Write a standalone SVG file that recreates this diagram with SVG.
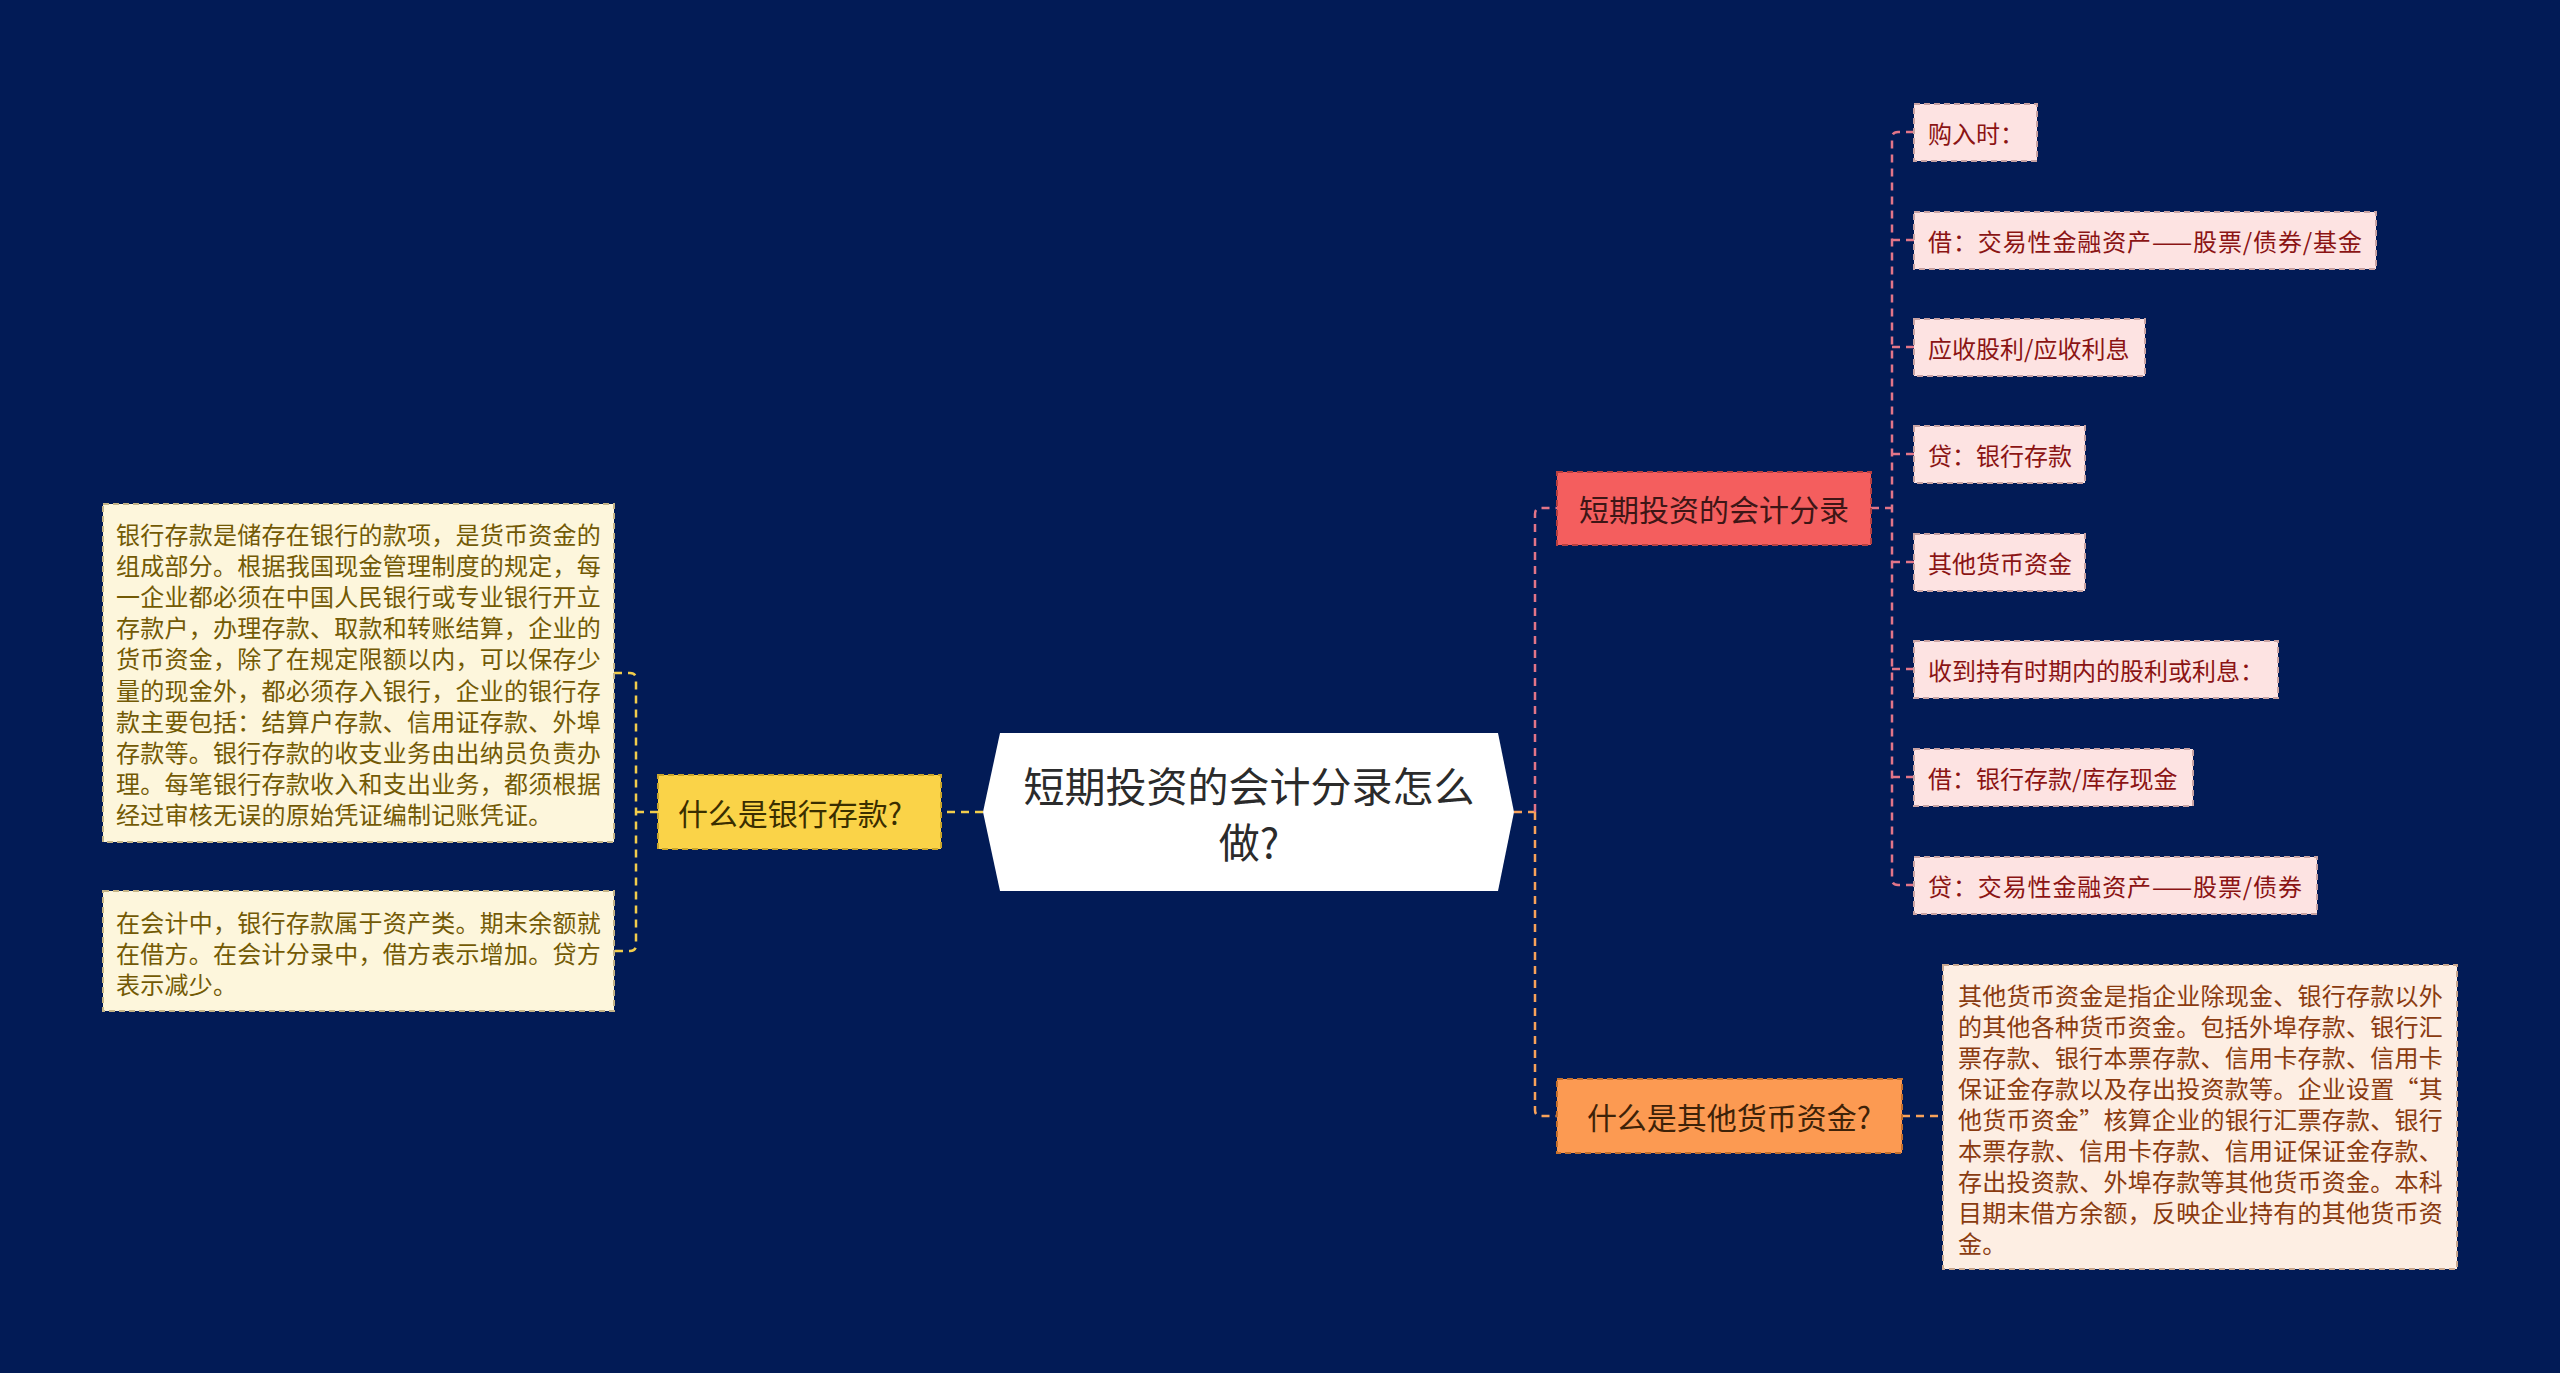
<svg xmlns="http://www.w3.org/2000/svg" width="2560" height="1373" viewBox="0 0 2560 1373">
<style>
text{font-family:"Noto Sans CJK SC","Noto Sans",sans-serif;dominant-baseline:central}
.c{fill:none;stroke-width:2.5;stroke-dasharray:8 6}
.cy{stroke:#f2cd4c}
.cp{stroke:#e27588}
.co{stroke:#f8a25a}
.root{fill:#ffffff}
.roott{font-size:41px;fill:#2b2b2b;text-anchor:middle}
.sub{font-size:30px;text-anchor:middle}
.bx{stroke-width:2;stroke-dasharray:6 4}
.nt{font-size:24px}
.leaf{fill:#fde3e2;stroke:#c9a3a3}
.leaft{fill:#8b1414}
.note{fill:#fdf6dc;stroke:#c4b487}
.notet{fill:#735a05;letter-spacing:0.25px}
.note2{fill:#fdeee3;stroke:#c9a890}
.note2t{fill:#8a3b10;letter-spacing:0.25px}
</style>
<rect width="2560" height="1373" fill="#021b56"/>
<g id="connectors">
<path class="c cy" d="M983 812H941"/>
<path class="c cy" d="M658 812H636"/>
<path class="c cy" d="M614 673H630Q636 673 636 679V945Q636 951 630 951H614"/>
<path class="c co" d="M1514 812H1535"/>
<path class="c cp" d="M1535 812V514Q1535 508 1541 508H1557"/>
<path class="c co" d="M1535 812V1110Q1535 1116 1541 1116H1557"/>
<path class="c cp" d="M1871 508H1892"/>
<path class="c cp" d="M1914 132H1898Q1892 132 1892 138V879Q1892 885 1898 885H1914"/>
<path class="c cp" d="M1892 240H1914M1892 347H1914M1892 454H1914M1892 562H1914M1892 669H1914M1892 777H1914"/>
<path class="c co" d="M1902 1116H1943"/>
</g>
<g id="root">
<polygon class="root" points="1000,733 1498,733 1514,812 1498,891 1000,891 983,812"/>
<text class="roott" x="1249" y="784">短期投资的会计分录怎么</text>
<text class="roott" x="1249" y="840">做?</text>
</g>
<g id="n-bank">
<rect class="bx" x="658" y="775" width="283" height="74" fill="#fad348" stroke="#c9a52a"/>
<text class="sub" x="790" y="812" fill="#3a2e00">什么是银行存款?</text>
</g>
<g id="n-bank-note1">
<rect class="bx note" x="103" y="504" width="511" height="338"/>
<text class="nt notet" x="116" y="533">银行存款是储存在银行的款项，是货币资金的</text>
<text class="nt notet" x="116" y="564">组成部分。根据我国现金管理制度的规定，每</text>
<text class="nt notet" x="116" y="595">一企业都必须在中国人民银行或专业银行开立</text>
<text class="nt notet" x="116" y="626">存款户，办理存款、取款和转账结算，企业的</text>
<text class="nt notet" x="116" y="657">货币资金，除了在规定限额以内，可以保存少</text>
<text class="nt notet" x="116" y="689">量的现金外，都必须存入银行，企业的银行存</text>
<text class="nt notet" x="116" y="720">款主要包括：结算户存款、信用证存款、外埠</text>
<text class="nt notet" x="116" y="751">存款等。银行存款的收支业务由出纳员负责办</text>
<text class="nt notet" x="116" y="782">理。每笔银行存款收入和支出业务，都须根据</text>
<text class="nt notet" x="116" y="813">经过审核无误的原始凭证编制记账凭证。</text>
</g>
<g id="n-bank-note2">
<rect class="bx note" x="103" y="891" width="511" height="120"/>
<text class="nt notet" x="116" y="921">在会计中，银行存款属于资产类。期末余额就</text>
<text class="nt notet" x="116" y="952">在借方。在会计分录中，借方表示增加。贷方</text>
<text class="nt notet" x="116" y="983">表示减少。</text>
</g>
<g id="n-entry">
<rect class="bx" x="1557" y="472" width="314" height="73" fill="#f45e5e" stroke="#b84040"/>
<text class="sub" x="1714" y="508" fill="#3e1616">短期投资的会计分录</text>
</g>
<g id="leaf1"><rect class="bx leaf" x="1914" y="104" width="123" height="57"/><text class="nt leaft" x="1928" y="132">购入时：</text></g>
<g id="leaf2"><rect class="bx leaf" x="1914" y="212" width="462" height="57"/><text class="nt leaft" x="1928" y="240" textLength="434" lengthAdjust="spacing">借：交易性金融资产——股票/债券/基金</text></g>
<g id="leaf3"><rect class="bx leaf" x="1914" y="319" width="231" height="57"/><text class="nt leaft" x="1928" y="347">应收股利/应收利息</text></g>
<g id="leaf4"><rect class="bx leaf" x="1914" y="426" width="171" height="57"/><text class="nt leaft" x="1928" y="454">贷：银行存款</text></g>
<g id="leaf5"><rect class="bx leaf" x="1914" y="534" width="171" height="57"/><text class="nt leaft" x="1928" y="562">其他货币资金</text></g>
<g id="leaf6"><rect class="bx leaf" x="1914" y="641" width="364" height="57"/><text class="nt leaft" x="1928" y="669">收到持有时期内的股利或利息：</text></g>
<g id="leaf7"><rect class="bx leaf" x="1914" y="749" width="279" height="57"/><text class="nt leaft" x="1928" y="777">借：银行存款/库存现金</text></g>
<g id="leaf8"><rect class="bx leaf" x="1914" y="857" width="403" height="57"/><text class="nt leaft" x="1928" y="885" textLength="374" lengthAdjust="spacing">贷：交易性金融资产——股票/债券</text></g>
<g id="n-other">
<rect class="bx" x="1557" y="1079" width="345" height="74" fill="#fc9a52" stroke="#c4702e"/>
<text class="sub" x="1729" y="1116" fill="#3e2208">什么是其他货币资金?</text>
</g>
<g id="n-other-note">
<rect class="bx note2" x="1943" y="965" width="514" height="304"/>
<text class="nt note2t" x="1958" y="994">其他货币资金是指企业除现金、银行存款以外</text>
<text class="nt note2t" x="1958" y="1025">的其他各种货币资金。包括外埠存款、银行汇</text>
<text class="nt note2t" x="1958" y="1056">票存款、银行本票存款、信用卡存款、信用卡</text>
<text class="nt note2t" x="1958" y="1087">保证金存款以及存出投资款等。企业设置“其</text>
<text class="nt note2t" x="1958" y="1118">他货币资金”核算企业的银行汇票存款、银行</text>
<text class="nt note2t" x="1958" y="1149">本票存款、信用卡存款、信用证保证金存款、</text>
<text class="nt note2t" x="1958" y="1180">存出投资款、外埠存款等其他货币资金。本科</text>
<text class="nt note2t" x="1958" y="1211">目期末借方余额，反映企业持有的其他货币资</text>
<text class="nt note2t" x="1958" y="1242">金。</text>
</g>
</svg>
